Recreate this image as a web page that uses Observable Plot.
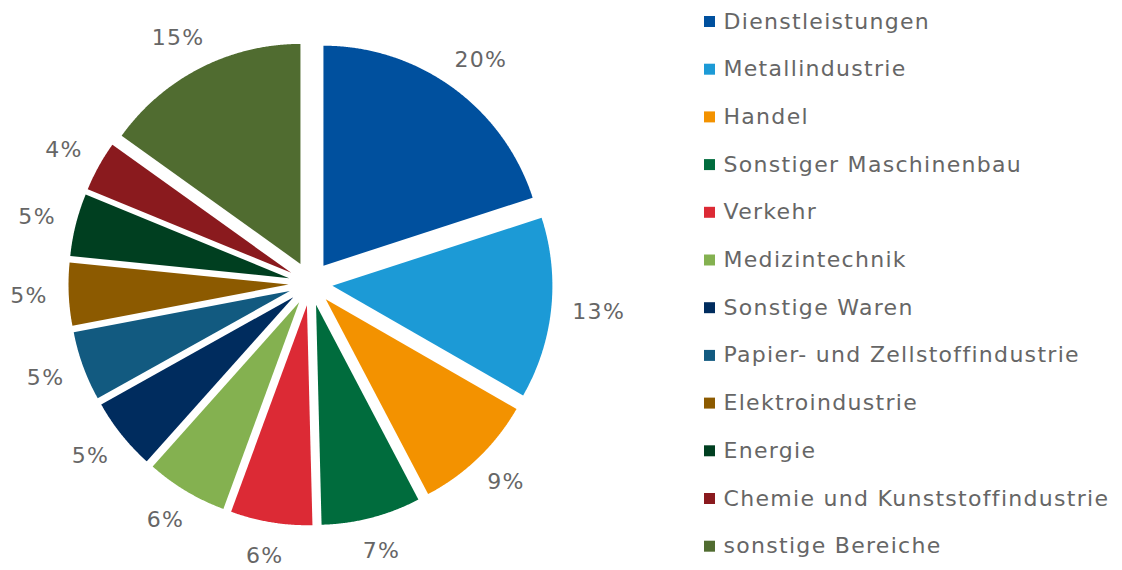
<!DOCTYPE html>
<html>
<head>
<meta charset="utf-8">
<script src="https://cdn.jsdelivr.net/npm/d3@7"></script>
<script src="https://cdn.jsdelivr.net/npm/@observablehq/plot@0.6"></script>
<style>
  html, body { margin: 0; padding: 0; background: #ffffff; }
  #chart { width: 1122px; height: 570px; }
  #chart svg text { letter-spacing: 1.3px; }
</style>
</head>
<body>
<div id="chart"></div>
<script>
// ---- data ----
const categories = [
  "Dienstleistungen",
  "Metallindustrie",
  "Handel",
  "Sonstiger Maschinenbau",
  "Verkehr",
  "Medizintechnik",
  "Sonstige Waren",
  "Papier- und Zellstoffindustrie",
  "Elektroindustrie",
  "Energie",
  "Chemie und Kunststoffindustrie",
  "sonstige Bereiche"
];
const values = [20.0, 13.3, 9.0, 7.3, 6.0, 6.0, 5.3, 5.1, 4.6, 4.6, 3.7, 15.1];
const colors = [
  "#00509e", "#1c9ad6", "#f39200", "#006c3d", "#dc2a35", "#84b150",
  "#002c5e", "#125a80", "#8c5a00", "#003f20", "#8a1a1e", "#506c30"
];

// ---- layout constants ----
const W = 1122, H = 570;
const cx = 310, cy = 283, R = 220, explode = 22, labelR0 = 266;
const legendX = 709, legendTextX = 723, legendY0 = 21, legendStep = 47.7;
const textColor = "#666666";
const font = "DejaVu Sans";
const fontSize = 22;

// ---- derived geometry (via d3.pie) ----
const arcs = d3.pie().sort(null).value(d => d)(values);
const slicePts = [];
arcs.forEach((a, i) => {
  const mid = (a.startAngle + a.endAngle) / 2;
  const ox = cx + explode * Math.sin(mid);
  const oy = cy - explode * Math.cos(mid);
  slicePts.push({cat: categories[i], x: ox, y: oy});
  const n = Math.max(8, Math.ceil((a.endAngle - a.startAngle) / 0.005));
  for (let k = 0; k <= n; k++) {
    const t = a.startAngle + (a.endAngle - a.startAngle) * k / n;
    slicePts.push({cat: categories[i], x: ox + R * Math.sin(t), y: oy - R * Math.cos(t)});
  }
});
// outside-end labels: the label box touches a circle of radius labelR0
const labelData = arcs.map((a, i) => {
  const mid = (a.startAngle + a.endAngle) / 2;
  const text = Math.round(values[i]) + "%";
  const hw = text.length * 0.72 * fontSize / 2, hh = fontSize * 0.45;
  const s = Math.sin(mid), c = Math.cos(mid);
  return {
    x: cx + labelR0 * s + hw * s,
    y: cy - labelR0 * c - hh * c,
    text
  };
});
const legendData = categories.map((c, i) => ({cat: c, y: legendY0 + i * legendStep}));

const chart = Plot.plot({
  width: W,
  height: H,
  margin: 0,
  x: {domain: [0, W], range: [0, W], axis: null},
  y: {domain: [0, H], range: [0, H], axis: null},
  color: {domain: categories, range: colors},
  style: {fontFamily: font, background: "#ffffff"},
  marks: [
    Plot.line(slicePts, {x: "x", y: "y", z: "cat", fill: "cat", stroke: null, curve: "linear"}),
    Plot.text(labelData, {x: "x", y: "y", text: "text", fill: textColor, fontSize: fontSize, textAnchor: "middle", lineAnchor: "middle"}),
    Plot.dot(legendData, {x: () => legendX, y: "y", fill: "cat", symbol: "square", r: 6.2, stroke: null}),
    Plot.text(legendData, {x: () => legendTextX, y: "y", text: "cat", fill: textColor, fontSize: fontSize, textAnchor: "start", lineAnchor: "middle"})
  ]
});
document.getElementById("chart").appendChild(chart);
</script>
</body>
</html>
